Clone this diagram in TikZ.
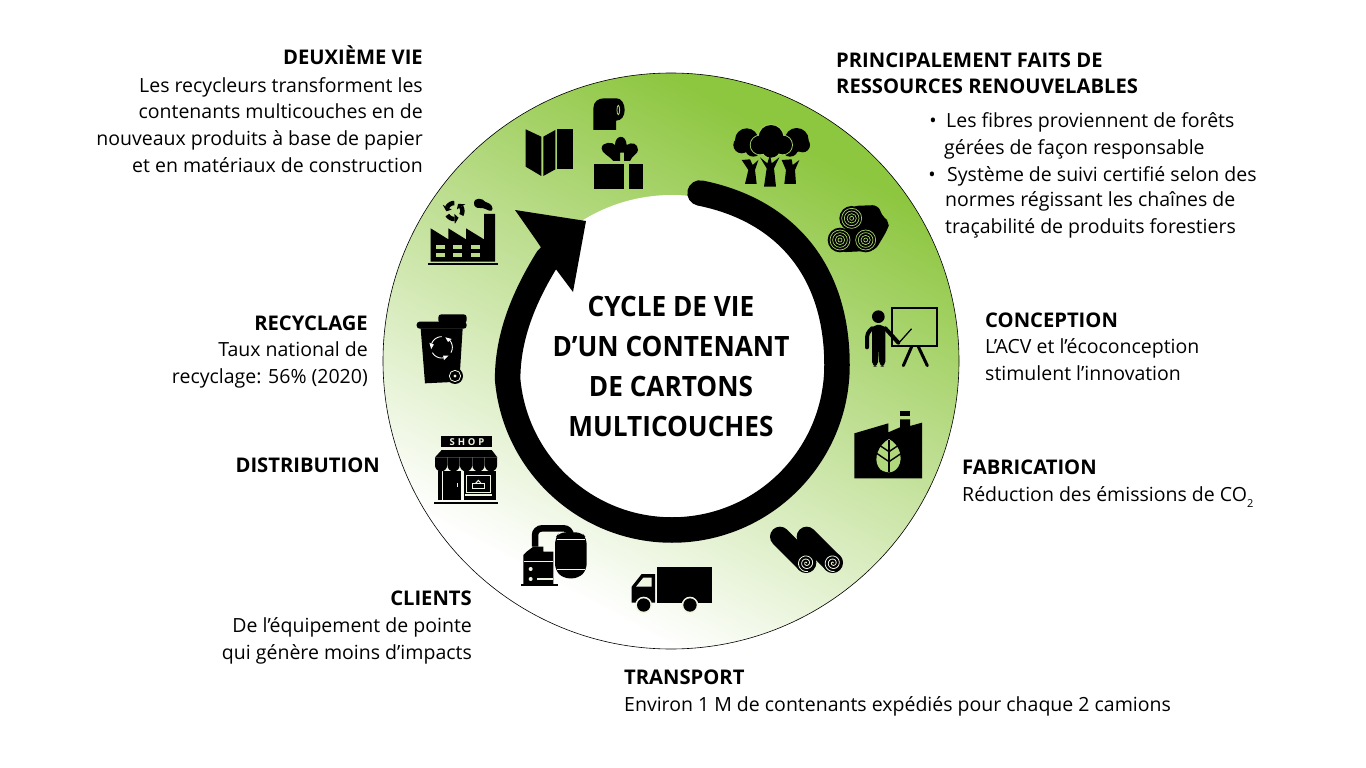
\documentclass[tikz,border=0pt]{standalone}
\usepackage{fontspec}
\setmainfont{Open Sans}
\definecolor{grA}{HTML}{8DC63F}
\definecolor{leafA}{HTML}{A6D268}
\definecolor{leafB}{HTML}{B0D77C}
\definecolor{leafC}{HTML}{EEF6E2}
\definecolor{leafD}{HTML}{B8DB86}
\pgfdeclareverticalshading{ringfade}{100bp}{color(0bp)=(white); color(28bp)=(white); color(72bp)=(grA); color(100bp)=(grA)}
\newcommand{\recy}[7]{% cx cy r w col sweep headhalf
  \foreach \a in {90,210,330}{
    \draw[#5,line width=#4pt] plot[domain=\a:\a+#6,samples=10,smooth] ({#1+#3*cos(\x)},{#2-#3*sin(\x)});
    \fill[#5] ({#1+(#3-#7)*cos(\a+#6)},{#2-(#3-#7)*sin(\a+#6)}) -- ({#1+(#3+#7)*cos(\a+#6)},{#2-(#3+#7)*sin(\a+#6)}) -- ({#1+#3*cos(\a+#6+30)},{#2-#3*sin(\a+#6+30)}) -- cycle;
  }}
\newcommand{\spiral}[4]{% cx cy rmax col
  \draw[#4,line width=0.8pt] plot[domain=0:10,samples=70,smooth] ({#1+#3*\x/10*cos(\x*100)},{#2-#3*\x/10*sin(\x*100)});}
\newcommand{\treerings}[3]{% cx cy col
  \foreach \r in {30,22,14,6} \draw[#3,line width=0.7pt] (#1,#2) circle[radius=\r];}
\tikzset{
  body/.style={inner sep=0pt,font=\fontsize{19.5}{26.6}\selectfont,text=black},
  head/.style={inner sep=0pt,font=\fontsize{20.2}{26.6}\selectfont\bfseries,text=black},
  title/.style={inner sep=0pt,font=\fontsize{28}{40.3}\selectfont\bfseries\addfontfeatures{FakeStretch=0.935},align=center,text=black},
  ringline/.style={black,line width=25.5pt,line cap=round,line join=round},
  zoomA/.style={shift={(400,80)},x=0.33333pt,y=-0.33333pt},
  zoomB/.style={shift={(690,80)},x=0.33333pt,y=-0.33333pt},
  zoomC/.style={shift={(400,400)},x=0.33333pt,y=-0.33333pt},
  zoomD/.style={shift={(730,390)},x=0.33333pt,y=-0.33333pt},
}
\begin{document}
\begin{tikzpicture}[x=1pt,y=-1pt,line join=miter]
\useasboundingbox (0,0) rectangle (1366,768);
\fill[white] (0,0) rectangle (1366,768);
\coordinate (c) at (671,361);
\coordinate (ci) at (672,365);
\coordinate (ringstart) at (700,193);
\coordinate (ringright) at (837,365);
\coordinate (ringend) at (548,258);
\shade[shading=ringfade,shading angle=-28] (c) circle[radius=288pt];
\draw[black,line width=0.6pt] (c) circle[radius=288pt];
\fill[white] (ci) circle[radius=170pt];
% ring and head
\draw[ringline] (ringstart) .. controls (785,210) and (837,270) .. (ringright)
   arc[start angle=0,end angle=-175,radius=165pt]
   .. controls (507.6,335) and (525,295) .. (ringend);
\fill[black] (515,210) -- (586,221) -- (573,292) -- (552,264) -- (536,240) -- cycle;
% toilet roll, gift, map
\begin{scope}[zoomA]
  \fill (580,150) -- (580,85) .. controls (580,65) and (595,55) .. (612,55) -- (650,55) .. controls (665,55) and (674,72) .. (674,90) .. controls (674,108) and (665,122) .. (648,122) -- (648,150) -- cycle;
  \draw[leafA,line width=0.8pt] (655,90) ellipse[x radius=4,y radius=14];
  \fill (582,252) rectangle (672,326);
  \fill (686,252) rectangle (730,326);
  \fill (640,243) .. controls (625,225) and (605,220) .. (605,205) .. controls (605,185) and (640,185) .. (645,195) .. controls (645,165) and (678,160) .. (680,195) .. controls (695,185) and (714,190) .. (714,210) .. controls (714,222) and (695,228) .. (690,243) -- (672,243) -- (672,218) -- (660,218) -- (660,243) -- cycle;
  \fill (377,148) -- (424,170) -- (424,288) -- (377,260) -- cycle;
  \fill (430,170) -- (466,150) -- (466,268) -- (430,288) -- cycle;
  \fill (472,148) rectangle (518,266);
  % factory
  \fill (92,545) -- (92,445) -- (145,478) -- (145,445) -- (198,478) -- (198,445) -- (252,478) -- (252,402) -- (285,402) -- (285,545) -- cycle;
  \fill (85,548) rectangle (295,556);
  \foreach \yy in {494,520} \foreach \xx in {108,160,212}
    \fill[leafD] (\xx,\yy) rectangle ++(27,12);
  \fill (222,370) .. controls (222,350) and (250,355) .. (255,365) .. controls (275,370) and (282,385) .. (275,392) .. controls (265,395) and (255,382) .. (240,384) .. controls (230,385) and (222,380) .. (222,370) -- cycle;
  \recy{163}{393}{24}{4.5}{black}{62}{15}
  % bin
  \fill (62,745) -- (188,745) -- (178,905) -- (75,910) -- cycle;
  \fill[rounded corners=3pt] (50,725) rectangle (200,746);
  \fill[rounded corners=3pt] (115,703) rectangle (200,730);
  \recy{125}{802}{32}{0.9}{white}{70}{7}
  \fill (165,888) circle[radius=24];
  \draw[leafC,line width=0.8pt] (165,888) circle[radius=17];
  \fill[leafC] (165,888) circle[radius=5];
\end{scope}
% trees, logs, teacher
\begin{scope}[zoomB]
  \foreach \cx/\cy/\cr in {170/180/35,155/195/25,190/205/25,320/180/36,338/195/22,300/205/25} \fill (\cx,\cy) circle[radius=\cr];
  \fill (165,312) -- (200,312) -- (195,270) -- (205,240) -- (188,255) -- (180,238) -- (155,240) -- (175,270) -- cycle;
  \fill (283,312) -- (318,312) -- (315,270) -- (328,240) -- (308,255) -- (305,238) -- (275,240) -- (288,270) -- cycle;
  \foreach \cx/\cy/\cr in {243/172/37,210/195/28,278/195/28,243/205/28} \draw[leafA,line width=1.8pt] (\cx,\cy) circle[radius=\cr];
  \foreach \cx/\cy/\cr in {243/172/37,210/195/28,278/195/28,243/205/28} \fill (\cx,\cy) circle[radius=\cr];
  \fill (222,320) -- (258,320) -- (252,265) -- (268,232) -- (245,250) -- (240,225) -- (232,250) -- (210,232) -- (230,265) -- cycle;
  \fill[rounded corners=6pt] (485,378) -- (565,375) -- (578,412) -- (600,425) -- (592,450) -- (555,512) -- (450,517) -- cycle;
  \foreach \cx/\cy in {485/415,450/480,527/480} \fill (\cx,\cy) circle[radius=37];
  \treerings{485}{415}{leafA}
  \treerings{450}{480}{leafA}
  \treerings{527}{480}{leafA}
  \fill (565,710) circle[radius=19];
  \fill[rounded corners=5pt] (546,735) -- (586,735) -- (586,860) -- (568,860) -- (566,800) -- (564,860) -- (546,860) -- cycle;
  \draw[line width=4pt,line cap=round,rounded corners=4pt] (546,745) -- (531,760) -- (531,802);
  \draw[line width=4pt,line cap=round] (586,745) -- (625,788);
  \draw[line width=1.3pt,line cap=round] (630,785) -- (664,747);
  \draw[line width=1.7pt] (607,685) rectangle (742,797);
  \draw[line width=3pt,line cap=round] (665,800) -- (640,857);
  \draw[line width=3pt,line cap=round] (685,800) -- (712,857);
\end{scope}
% shop, machine, truck
\begin{scope}[zoomC]
  \fill (123,108) rectangle (275,142);
  \node[inner sep=0pt,text=leafC,font=\fontsize{9.5}{8}\selectfont\bfseries\addfontfeatures{LetterSpace=30}] (shoptext) at (201,125) {SHOP};
  \fill (125,150) -- (275,150) -- (292,172) -- (105,172) -- cycle;
  \foreach \xx in {105,142.4,179.8,217.2,254.6} {
    \fill (\xx,172) -- ++(36.5,0) -- ++(0,24) arc[start angle=0,end angle=180,radius=18.25] -- cycle;
  }
  \fill (113,212) rectangle (125,300);
  \fill (130,212) rectangle (183,300);
  \fill (192,212) rectangle (287,300);
  \draw[leafC,line width=1pt] (199,226) rectangle (272,278);
  \fill[leafC] (195,282) rectangle (276,288);
  \draw[leafC,line width=1pt] (218,251) rectangle (252,265);
  \draw[leafC,line width=1pt] (226,251) -- (235,241) -- (244,251);
  \fill[leafC] (170,250) rectangle (174,262);
  \fill (103,305) rectangle (295,313);
  % machine
  \draw[line width=6.5pt,rounded corners=7pt] (405,440) -- (405,385) -- (512,385) -- (512,400);
  \fill[rounded corners=6pt] (465,415) -- (478,397) -- (545,397) -- (560,415) -- (560,510) -- (535,535) -- (490,535) -- (465,510) -- cycle;
  \draw[leafC,line width=1pt] (470,418) -- (556,418);
  \draw[leafC,line width=1pt] (470,508) -- (556,508);
  \fill (380,455) -- (400,440) -- (430,440) -- (430,455) -- (460,455) -- (460,553) -- (370,553) -- (370,465) -- cycle;
  \fill (362,552) rectangle (475,557);
  \draw[leafC,line width=1pt] (372,484) -- (460,484);
  \fill[leafC] (392,507) circle[radius=6];
  \fill[leafC] (392,537) circle[radius=6];
  \fill[leafC] (410,535) rectangle (458,539);
  % truck
  \fill (771,500) rectangle (935,608);
  \fill (695,560) -- (725,522) -- (765,522) -- (765,608) -- (695,608) -- cycle;
  \fill[leafC] (708,560) -- (730,533) -- (755,533) -- (755,560) -- cycle;
  \foreach \xx in {731,870} {
    \fill[leafC] (\xx,615) circle[radius=25];
    \fill (\xx,615) circle[radius=20];
  }
\end{scope}
% leaf factory, rolls
\begin{scope}[zoomD]
  \fill (373,265) -- (373,130) -- (475,100) -- (475,127) -- (510,112) -- (510,88) -- (540,88) -- (540,108) -- (576,98) -- (576,265) -- cycle;
  \fill (510,64) rectangle (541,78);
  \fill[leafB] (477,147) .. controls (510,165) and (520,205) .. (505,230) .. controls (497,243) and (485,247) .. (477,247) .. controls (469,247) and (450,243) .. (445,230) .. controls (430,205) and (445,165) .. (477,147) -- cycle;
  \draw[line width=1.7pt] (477,150) -- (477,247);
  \foreach \yy in {185,215} {
    \draw[line width=1.4pt] (477,\yy) -- (440,\yy-25);
    \draw[line width=1.4pt] (477,\yy) -- (514,\yy-25);
  }
  \draw[line width=20pt,line cap=round] (150,440) -- (228,518);
  \draw[line width=20pt,line cap=round] (230,440) -- (308,518);
  \fill (228,518) circle[radius=31];
  \fill (308,518) circle[radius=31];
  \spiral{229}{519}{26}{leafC}
  \spiral{309}{519}{26}{leafC}
\end{scope}
% title
\node[title] (cycle) at (671,366.5) {CYCLE DE VIE\\D’UN CONTENANT\\DE CARTONS\\MULTICOUCHES};
% text
\node[head,anchor=base east] (h2) at (423,65) {DEUXIÈME VIE};
\node[body,anchor=base east,align=right] (t2) at (423,172) {Les recycleurs transforment les\\contenants multicouches en de\\nouveaux produits à base de papier\\et en matériaux de construction};
\node[head,anchor=base west,align=left] (h1) at (836,94) {PRINCIPALEMENT FAITS DE\\RESSOURCES RENOUVELABLES};
\node[body,anchor=base] (b1) at (933,127) {•};
\node[body,anchor=base west,align=left] (t1a) at (946,127) {Les fibres proviennent de forêts};
\node[body,anchor=base west,align=left] (t1b) at (944,154) {gérées de façon responsable};
\node[body,anchor=base] (b2) at (932,181) {•};
\node[body,anchor=base west,align=left] (t1c) at (947,181) {Système de suivi certifié selon des};
\node[body,anchor=base west,align=left] (t1d) at (945,233) {normes régissant les chaînes de\\traçabilité de produits forestiers};
\node[head,anchor=base west] (h3) at (985,327) {CONCEPTION};
\node[body,anchor=base west,align=left] (t3) at (985,380) {L’ACV et l’écoconception\\stimulent l’innovation};
\node[head,anchor=base west] (h4) at (962,474) {FABRICATION};
\node[body,anchor=base west] (t4) at (962,501) {Réduction des émissions de CO\raisebox{-0.6ex}{\fontsize{11}{11}\selectfont 2}};
\node[head,anchor=base west] (h5) at (624,684) {TRANSPORT};
\node[body,anchor=base west] (t5) at (624,711) {Environ 1 M de contenants expédiés pour chaque 2 camions};
\node[head,anchor=base east] (h6) at (472,605) {CLIENTS};
\node[body,anchor=base east,align=right] (t6) at (472,659) {De l’équipement de pointe\\qui génère moins d’impacts};
\node[head,anchor=base east] (h7) at (380,472) {DISTRIBUTION};
\node[head,anchor=base east] (h8) at (368,330) {RECYCLAGE};
\node[body,anchor=base east,align=right] (t8) at (368,383) {Taux national de\\recyclage: 56\% (2020)};
\end{tikzpicture}
\end{document}
